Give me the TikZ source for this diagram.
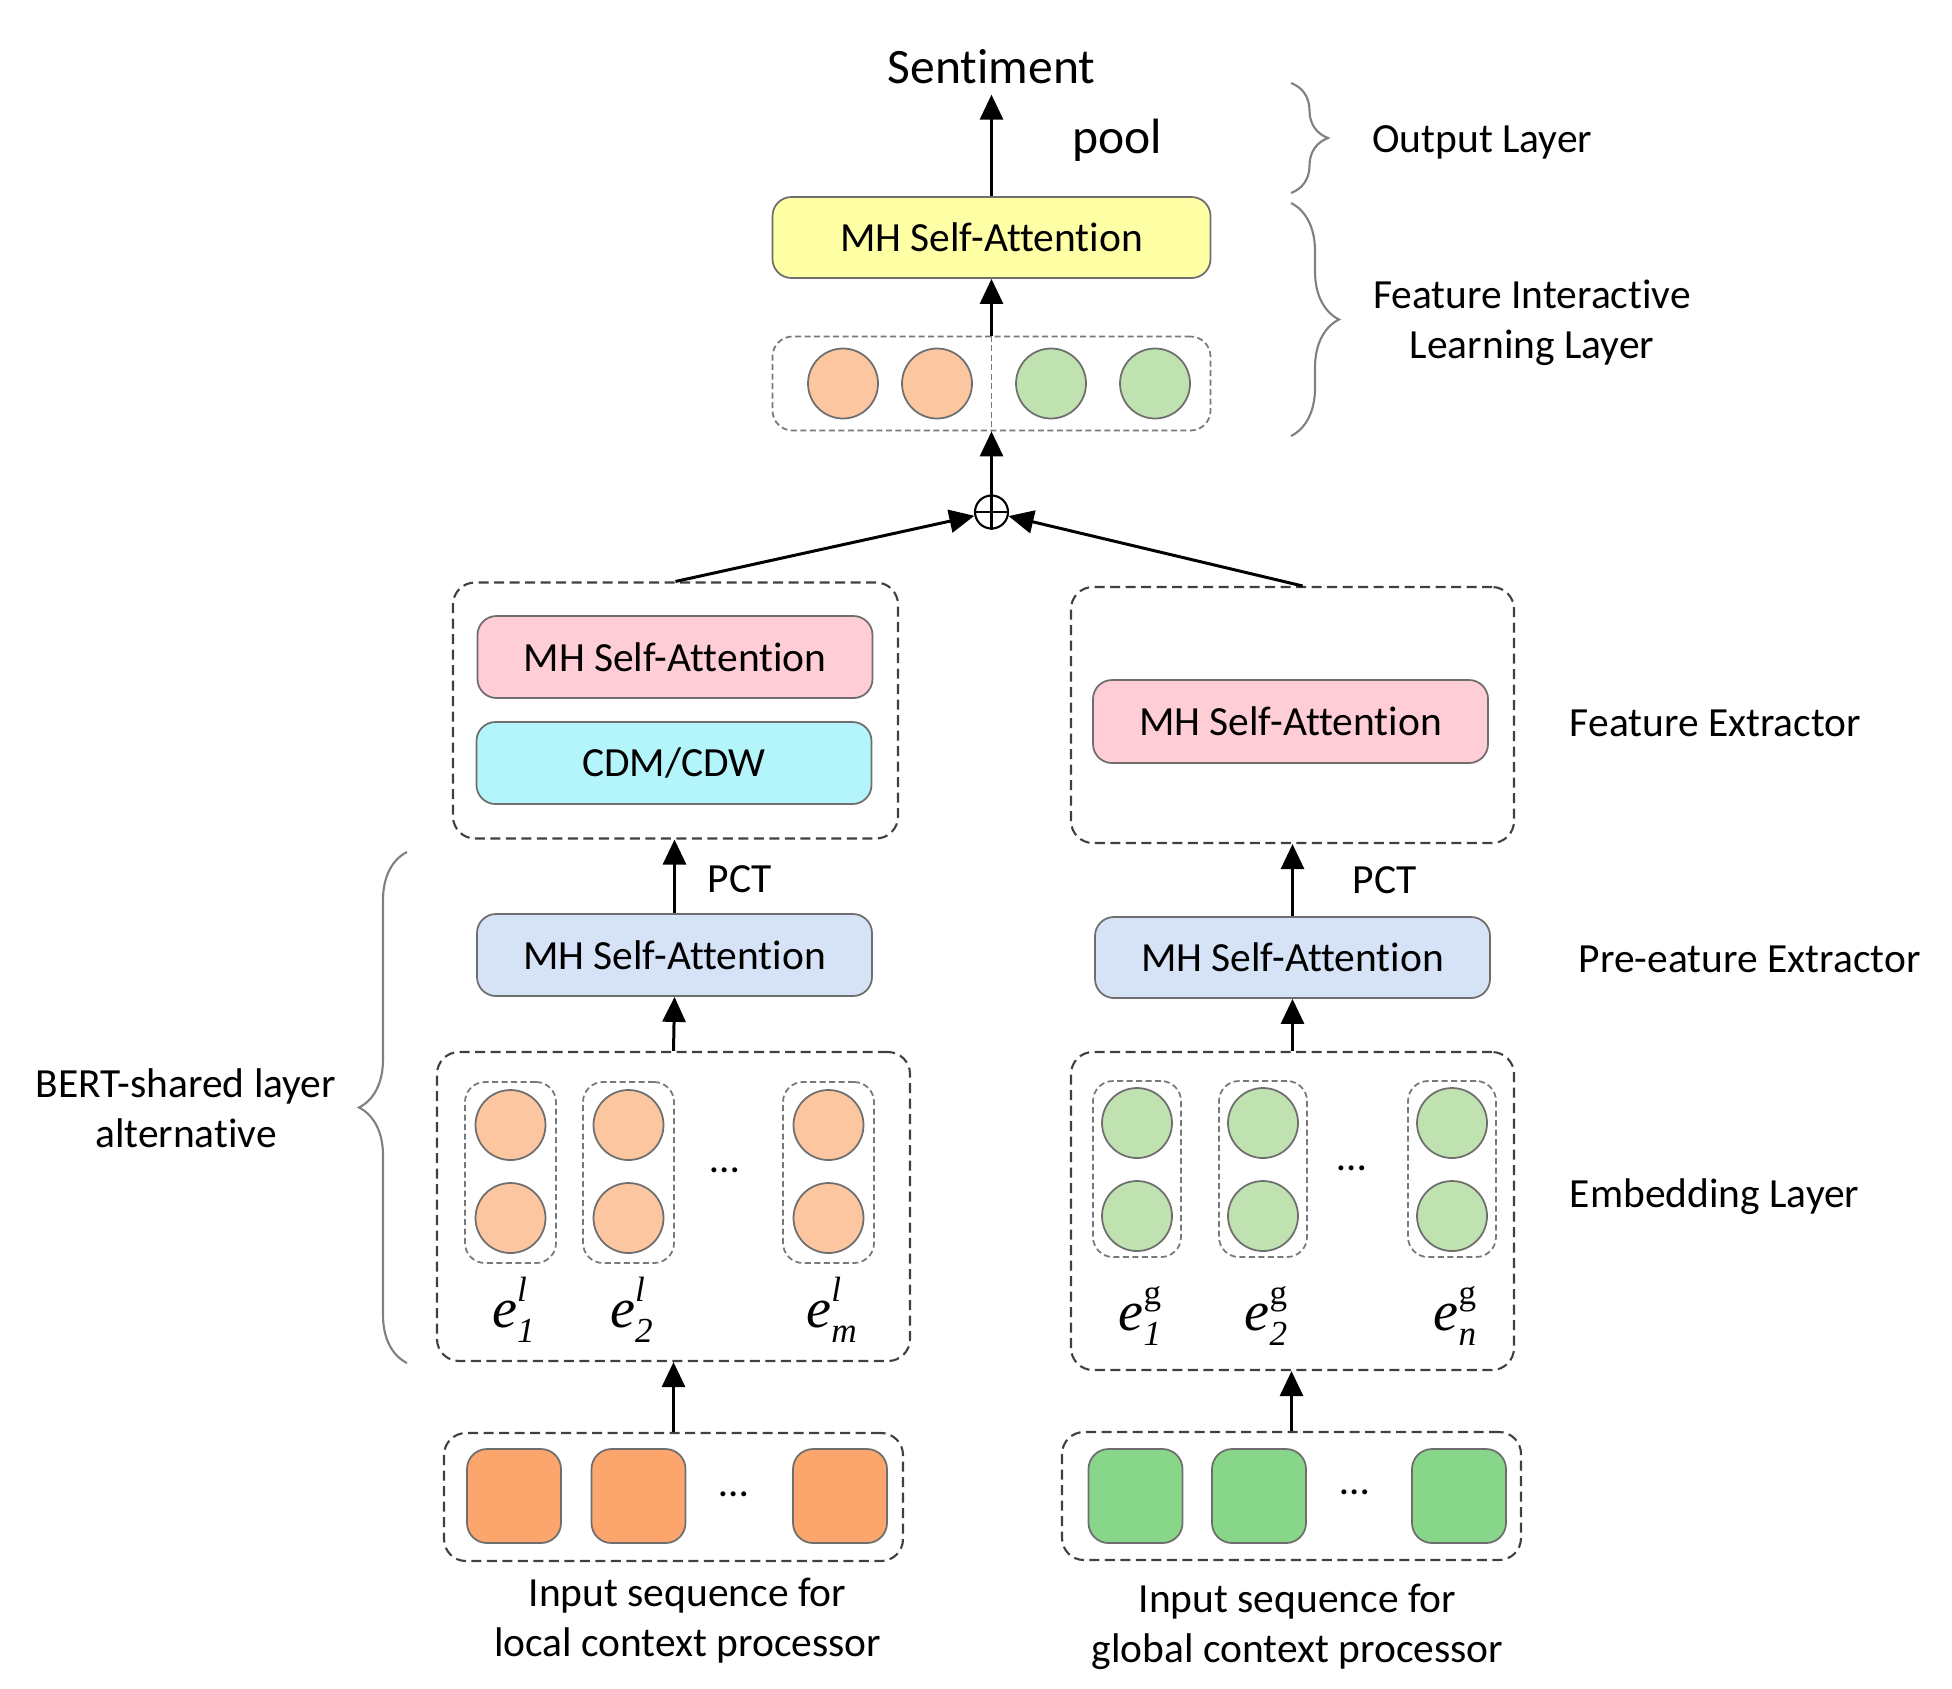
\documentclass[tikz,border=0pt]{standalone}
\usepackage{fontspec}
\setmainfont{Carlito}[Ligatures=NoCommon]
\newfontfamily\tnr{Liberation Serif}
\usetikzlibrary{calc, positioning, arrows.meta, decorations.pathreplacing}

\definecolor{attyellow}{RGB}{255,255,166}
\definecolor{attpink}{RGB}{255,205,213}
\definecolor{cdmcyan}{RGB}{180,245,252}
\definecolor{preblue}{RGB}{214,226,245}
\definecolor{embor}{RGB}{252,199,160}
\definecolor{embgr}{RGB}{192,226,176}
\definecolor{inor}{RGB}{252,166,110}
\definecolor{ingr}{RGB}{136,214,138}
\definecolor{edgegray}{RGB}{110,110,110}
\definecolor{dashgray}{RGB}{64,64,64}
\definecolor{slotgray}{RGB}{120,120,120}
\definecolor{bracegray}{RGB}{128,128,128}

% embedding vector label e^{sup}_{sub}, [raise of sup]
\newcommand{\evec}[3][7.2pt]{{\tnr\itshape\fontsize{16}{16}\selectfont e\rlap{\raisebox{#1}{\fontsize{10}{10}\selectfont #2}}\raisebox{-4.5pt}{\fontsize{10}{10}\selectfont #3}}}

\begin{document}
\begin{tikzpicture}[
    >={Triangle[length=0.25cm, width=0.23cm]},
    font=\fontsize{11.8}{14.2}\selectfont,
    flow/.style={->, line width=0.85pt},
    block/.style={draw=edgegray, line width=0.5pt, rounded corners=0.19cm, minimum width=3.95cm, minimum height=0.82cm},
    group/.style={draw=dashgray, line width=0.6pt, dash pattern=on 0.1cm off 0.055cm, rounded corners=0.22cm},
    slot/.style={draw=slotgray, line width=0.5pt, dash pattern=on 0.06cm off 0.035cm, rounded corners=0.2cm},
    unit/.style={circle, draw=edgegray, line width=0.5pt, minimum size=0.7cm, inner sep=0pt},
    token/.style={draw=edgegray, line width=0.5pt, rounded corners=0.2cm, minimum size=0.94cm, inner sep=0pt},
    layerbrace/.style={draw=bracegray, line width=0.6pt, decorate, decoration={brace, amplitude=#1}},
    layerbrace/.default=0.4cm,
    big_font/.style={font=\fontsize{14.1}{16}\selectfont}
]
    \useasboundingbox (0,0) rectangle (19.52,-16.88);

    % Output
    \node[block, fill=attyellow, minimum width=4.38cm, minimum height=0.81cm] (fuse_att) at (9.915,-2.375) {MH Self-Attention};
    \node[big_font, anchor=base, inner sep=3pt] (sentiment) at (9.915,-0.83) {Sentiment};
    \node[big_font, anchor=base] (pool) at (11.17,-1.53) {pool};
    \draw[flow] (fuse_att.north) -- (sentiment.south);

    % Interactive features
    \node[slot, minimum width=4.38cm, minimum height=0.94cm] (fuse_vec) at (9.915,-3.835) {};
    \draw[slot] (fuse_vec.north) -- (fuse_vec.south);
    \foreach \x/\col [count=\i] in {8.43/embor, 9.37/embor, 10.51/embgr, 11.55/embgr}
        \node[unit, fill=\col] (fuse_\i) at (\x,-3.835) {};
    \draw[flow] (fuse_vec.north) -- (fuse_att.south);

    % Concatenation
    \node[circle, draw, line width=0.6pt, minimum size=0.33cm, inner sep=0pt] (concat) at (9.915,-5.12) {};
    \draw[line width=0.6pt] (concat.north) -- (concat.south) (concat.west) -- (concat.east);
    \draw[flow] (concat.north) -- (fuse_vec.south);

    % Feature extractors
    \node[group, minimum width=4.45cm, minimum height=2.56cm] (lcf_feat) at (6.755,-7.105) {};
    \node[block, fill=attpink] (lcf_att) at (6.75,-6.57) {MH Self-Attention};
    \node[block, fill=cdmcyan] (lcf_cdm) at (6.74,-7.63) {CDM/CDW};
    \node[group, minimum width=4.43cm, minimum height=2.56cm] (gcf_feat) at (12.925,-7.15) {};
    \node[block, fill=attpink, minimum height=0.83cm] (gcf_att) at (12.905,-7.215) {MH Self-Attention};
    \draw[flow] (lcf_feat.north) -- (concat);
    \draw[flow] ($(gcf_feat.north)+(0.1,0)$) -- (concat);

    % Pre-feature extractors
    \node[block, fill=preblue] (lcf_pre) at (6.745,-9.55) {MH Self-Attention};
    \node[block, fill=preblue, minimum height=0.81cm] (gcf_pre) at (12.925,-9.575) {MH Self-Attention};
    \draw[flow] (lcf_pre.north) -- (lcf_pre.north |- lcf_feat.south) node[midway, right=0.2cm, yshift=-0.03cm] {PCT};
    \draw[flow] (gcf_pre.north) -- (gcf_feat.south) node[midway, right=0.47cm] {PCT};

    % Embedding layers
    \node[group, minimum width=4.73cm, minimum height=3.09cm] (lcf_emb) at (6.735,-12.065) {};
    \node[group, minimum width=4.43cm, minimum height=3.18cm] (gcf_emb) at (12.925,-12.11) {};
    \foreach \x/\s [count=\i] in {5.105/1, 6.285/2, 8.285/m} {
        \node[slot, minimum width=0.91cm, minimum height=1.81cm] (lcf_col\i) at (\x,-11.725) {};
        \node[unit, fill=embor] (lcf_top\i) at (\x,-11.25) {};
        \node[unit, fill=embor] (lcf_bot\i) at (\x,-12.18) {};
        \node[anchor=base] (lcf_e\i) at (\x+0.03,-13.27) {\evec{l}{\s}};
    }
    \foreach \x/\s [count=\i] in {11.37/1, 12.63/2, 14.52/n} {
        \node[slot, minimum width=0.88cm, minimum height=1.76cm] (gcf_col\i) at (\x,-11.69) {};
        \node[unit, fill=embgr] (gcf_top\i) at (\x,-11.23) {};
        \node[unit, fill=embgr] (gcf_bot\i) at (\x,-12.16) {};
        \node[anchor=base] (gcf_e\i) at (\x+0.03,-13.30) {\evec{\upshape g}{\s}};
    }
    \node (lcf_dots) at (7.25,-11.70) {…};
    \node (gcf_dots) at (13.52,-11.68) {…};
    \draw[flow] (lcf_emb.north) -- (lcf_pre.south);
    \draw[flow] (gcf_emb.north) -- (gcf_pre.south);

    % Input sequences
    \node[group, minimum width=4.59cm, minimum height=1.28cm] (lcf_in) at (6.735,-14.97) {};
    \node[group, minimum width=4.59cm, minimum height=1.28cm] (gcf_in) at (12.915,-14.96) {};
    \foreach \x [count=\i] in {5.14, 6.385, 8.40}
        \node[token, fill=inor] (lcf_tok\i) at (\x,-14.96) {};
    \foreach \x [count=\i] in {11.355, 12.59, 14.59}
        \node[token, fill=ingr] (gcf_tok\i) at (\x,-14.96) {};
    \node (lcf_idots) at (7.34,-14.94) {…};
    \node (gcf_idots) at (13.55,-14.92) {…};
    \draw[flow] (lcf_in.north) -- (lcf_emb.south);
    \draw[flow] (gcf_in.north) -- (gcf_in.north |- gcf_emb.south);
    \node[below=0.04cm of lcf_in, xshift=0.14cm, align=center] (lcf_lab) {Input sequence for\\local context processor};
    \node[below=0.11cm of gcf_in, xshift=0.06cm, align=center] (gcf_lab) {Input sequence for\\global context processor};

    % Layer names
    \node[anchor=west] (out_lab) at (13.6,-1.42) {Output Layer};
    \node[align=center] (fil_lab) at (15.32,-3.23) {Feature Interactive\\Learning Layer};
    \node[anchor=west] (fe_lab) at (15.575,-7.23) {Feature Extractor};
    \node[anchor=west] (pfe_lab) at (15.665,-9.59) {Pre-eature Extractor};
    \node[anchor=west] (emb_lab) at (15.575,-11.97) {Embedding Layer};
    \node[align=center] (bert_lab) at (1.86,-11.08) {BERT-shared layer\\alternative};

    % Braces
    \draw[layerbrace=0.37cm] (12.91,-0.83) -- (12.91,-1.93);
    \draw[layerbrace=0.48cm] (12.91,-2.03) -- (12.91,-4.36);
    \draw[layerbrace=0.48cm] (4.07,-13.63) -- (4.07,-8.52);

\end{tikzpicture}
\end{document}
